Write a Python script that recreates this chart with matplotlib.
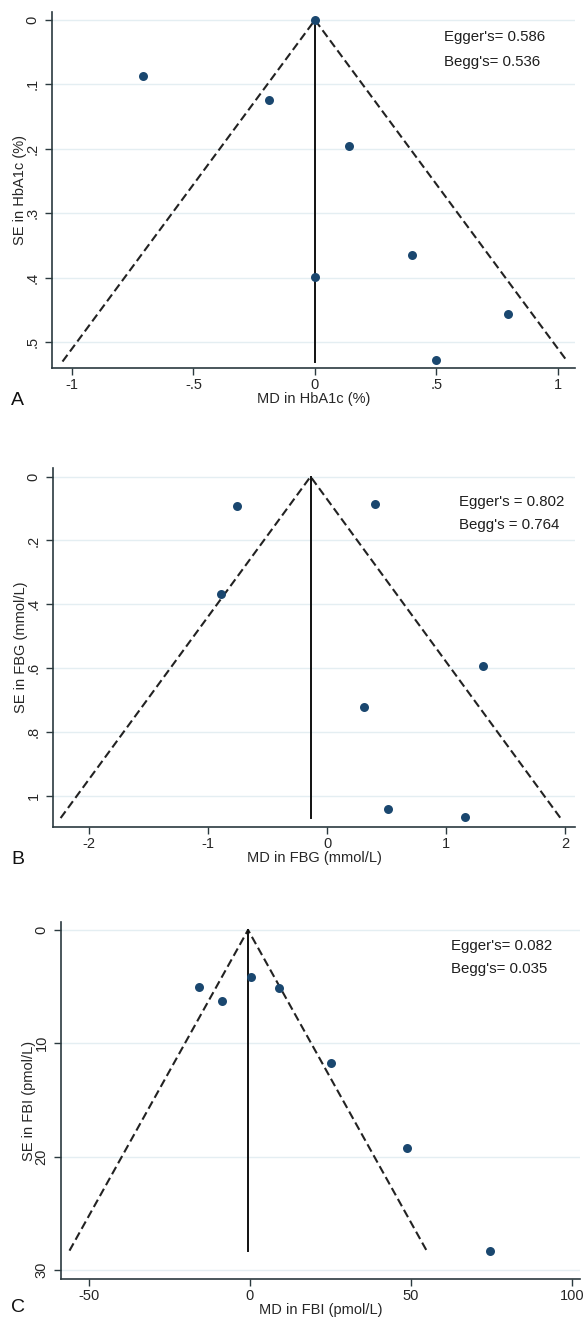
import numpy as np
import matplotlib
matplotlib.use("Agg")
import matplotlib.pyplot as plt

plt.rcParams['font.family'] = ['Liberation Sans', 'DejaVu Sans']

# Panel A: HbA1c
md_a = [0.0, -0.708, -0.19, 0.14, 0.398, 0.0, 0.795, 0.497]
se_a = [0.0, 0.087, 0.124, 0.196, 0.364, 0.399, 0.456, 0.528]
pooled_a, semax_a = 0.0, 0.53
xt_a = [-1, -0.5, 0, 0.5, 1]
xtl_a = ["-1", "-.5", "0", ".5", "1"]
yt_a = [0, 0.1, 0.2, 0.3, 0.4, 0.5]
ytl_a = ["0", ".1", ".2", ".3", ".4", ".5"]

# Panel B: FBG
md_b = [-0.757, 0.40, -0.893, 1.312, 0.306, 0.508, 1.155]
se_b = [0.092, 0.085, 0.367, 0.592, 0.722, 1.042, 1.068]
pooled_b, semax_b = -0.139, 1.07
xt_b = [-2, -1, 0, 1, 2]
xtl_b = ["-2", "-1", "0", "1", "2"]
yt_b = [0, 0.2, 0.4, 0.6, 0.8, 1.0]
ytl_b = ["0", ".2", ".4", ".6", ".8", "1"]

# Panel C: FBI
md_c = [-15.8, -8.7, 0.35, 9.07, 25.1, 48.7, 74.5]
se_c = [5.03, 6.24, 4.12, 5.15, 11.76, 19.26, 28.3]
pooled_c, semax_c = -0.6, 28.3
xt_c = [-50, 0, 50, 100]
xtl_c = ["-50", "0", "50", "100"]
yt_c = [0, 10, 20, 30]
ytl_c = ["0", "10", "20", "30"]

W, H = 587, 1320
fig = plt.figure(figsize=(W / 100, H / 100), dpi=100)

axis_col = "#2b3a3f"
dot_col = "#1a476f"
grid_col = "#e4eef2"
text_col = "#262626"

panels = [
    dict(px=(52, 12, 575, 368), xlim=(-1.082, 1.07), ylim=(0.54, -0.0124),
         md=md_a, se=se_a, pooled=pooled_a, semax=semax_a,
         xt=xt_a, xtl=xtl_a, yt=yt_a, ytl=ytl_a,
         xlabel="MD in HbA1c (%)", ylabel="SE in HbA1c (%)",
         notes=("Egger's= 0.586", "Begg's= 0.536"),
         note_xy=(0.750, 0.930, 0.860), letter="A", letter_y=401),
    dict(px=(53, 468, 575, 827), xlim=(-2.30, 2.08), ylim=(1.098, -0.027),
         md=md_b, se=se_b, pooled=pooled_b, semax=semax_b,
         xt=xt_b, xtl=xtl_b, yt=yt_b, ytl=ytl_b,
         xlabel="MD in FBG (mmol/L)", ylabel="SE in FBG (mmol/L)",
         notes=("Egger's = 0.802", "Begg's = 0.764"),
         note_xy=(0.778, 0.905, 0.841), letter="B", letter_y=860),
    dict(px=(61, 922, 580, 1279), xlim=(-58.7, 102.5), ylim=(30.8, -0.7),
         md=md_c, se=se_c, pooled=pooled_c, semax=semax_c,
         xt=xt_c, xtl=xtl_c, yt=yt_c, ytl=ytl_c,
         xlabel="MD in FBI (pmol/L)", ylabel="SE in FBI (pmol/L)",
         notes=("Egger's= 0.082", "Begg's= 0.035"),
         note_xy=(0.751, 0.933, 0.868), letter="C", letter_y=1308),
]

for p in panels:
    l, t, r, b = p["px"]
    ax = fig.add_axes([l / W, 1 - b / H, (r - l) / W, (b - t) / H])
    ax.set_xlim(*p["xlim"])
    ax.set_ylim(*p["ylim"])

    # funnel limits and pooled line
    c, s = p["pooled"], p["semax"]
    ax.plot([c - 1.96 * s, c, c + 1.96 * s], [s, 0, s], ls=(0, (4, 2)),
            color="#222222", lw=1.5, zorder=2)
    ax.plot([c, c], [0, s], color="#111111", lw=1.4, zorder=2)
    ax.scatter(p["md"], p["se"], s=42, color=dot_col, zorder=3, linewidths=0)

    ax.set_xticks(p["xt"])
    ax.set_xticklabels(p["xtl"])
    ax.set_yticks(p["yt"])
    ax.set_yticklabels(p["ytl"], rotation=90, va="center")
    ax.yaxis.grid(True, color=grid_col, lw=1.0)
    ax.set_axisbelow(True)
    for side in ("top", "right"):
        ax.spines[side].set_visible(False)
    for side in ("left", "bottom"):
        ax.spines[side].set_color(axis_col)
        ax.spines[side].set_linewidth(1.2)
    ax.tick_params(colors=axis_col, labelcolor=text_col, labelsize=10.5,
                   length=5, width=1)
    ax.tick_params(axis="x", pad=2)
    ax.tick_params(axis="y", pad=4)
    ax.set_xlabel(p["xlabel"], fontsize=10.5, color=text_col, labelpad=0)
    ax.set_ylabel(p["ylabel"], fontsize=10.5, color=text_col, labelpad=-1)

    nx, ny1, ny2 = p["note_xy"]
    ax.text(nx, ny1, p["notes"][0], transform=ax.transAxes, fontsize=10.8,
            color="#1e1e1e", va="center", ha="left")
    ax.text(nx, ny2, p["notes"][1], transform=ax.transAxes, fontsize=10.8,
            color="#1e1e1e", va="center", ha="left")

    fig.text(11 / W, 1 - p["letter_y"] / H, p["letter"], fontsize=14,
             color="#111111", va="center", ha="left")

fig.savefig("out.png", dpi=100)
